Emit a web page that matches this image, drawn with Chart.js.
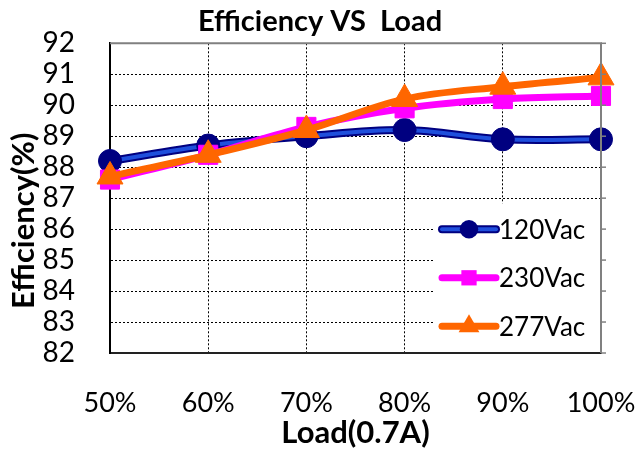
<!DOCTYPE html>
<html>
<head>
<meta charset="utf-8">
<script src="https://cdn.jsdelivr.net/npm/chart.js@4/dist/chart.umd.min.js"></script>
<style>
  html, body { margin: 0; padding: 0; background: #fff; }
  #wrap { width: 640px; height: 452px; }
</style>
</head>
<body>
<div id="wrap"><canvas id="effChart" width="640" height="452"></canvas></div>
<script>
// Efficiency vs load, three input voltages
const loads = ['50%', '60%', '70%', '80%', '90%', '100%'];
const eff120 = [88.2, 88.7, 89.0, 89.2, 88.9, 88.9];
const eff230 = [87.6, 88.4, 89.3, 89.9, 90.2, 90.3];
const eff277 = [87.7, 88.4, 89.2, 90.2, 90.6, 90.9];
const seriesNames = ['120Vac', '230Vac', '277Vac'];
const yMin = 82, yMax = 92, yStep = 1;

const FONT = "Lato, 'Open Sans', sans-serif";

// navy outline under the blue 120Vac line (Excel double-line look)
const doubleLine = {
    id: 'doubleLine',
    beforeDatasetDraw(chart, args) {
        if (args.index !== 0) return;
        const el = args.meta.dataset;
        const saved = el.options;
        el.options = Object.assign({}, saved, { borderColor: '#000080', borderWidth: 8 });
        el.draw(chart.ctx, chart.chartArea);
        el.options = saved;
    }
};

// grey top/right frame with outside ticks
const frame = {
    id: 'frame',
    afterDraw(chart) {
        const { ctx, chartArea: a, scales } = chart;
        ctx.save();
        ctx.strokeStyle = '#808080';
        ctx.lineWidth = 2;
        ctx.beginPath();
        ctx.moveTo(a.left, a.top);
        ctx.lineTo(a.right, a.top);
        ctx.lineTo(a.right, a.bottom);
        ctx.stroke();
        ctx.lineWidth = 1.5;
        scales.y.ticks.forEach(t => {
            const y = scales.y.getPixelForValue(t.value);
            ctx.beginPath();
            ctx.moveTo(a.right, y);
            ctx.lineTo(a.right + 5, y);
            ctx.stroke();
        });
        ctx.restore();
    }
};

function drawMarker(ctx, style, x, y, r) {
    if (style === 'circle') {
        ctx.arc(x, y, r, 0, Math.PI * 2);
    } else if (style === 'rect') {
        const s = Math.SQRT1_2 * r;
        ctx.rect(x - s, y - s, 2 * s, 2 * s);
    } else {
        for (let k = 0; k < 3; k++) {
            const ang = k * 2 * Math.PI / 3;
            const px = x + Math.sin(ang) * r, py = y - Math.cos(ang) * r;
            k ? ctx.lineTo(px, py) : ctx.moveTo(px, py);
        }
        ctx.closePath();
    }
}

// legend boxed inside the plot, lower right
const insideLegend = {
    id: 'insideLegend',
    afterDraw(chart) {
        const { ctx, chartArea: a } = chart;
        const boxL = a.right - 168, boxT = a.top + 160;
        ctx.save();
        ctx.fillStyle = '#fff';
        ctx.fillRect(boxL, boxT, a.right - 1 - boxL, a.bottom - 1 - boxT);
        chart.data.datasets.forEach((ds, i) => {
            const y = boxT + 26 + i * 48.5;
            const x0 = boxL + 9, x1 = boxL + 63, xm = (x0 + x1) / 2;
            ctx.lineCap = 'round';
            if (i === 0) {
                ctx.strokeStyle = '#000080'; ctx.lineWidth = 8;
                ctx.beginPath(); ctx.moveTo(x0, y); ctx.lineTo(x1, y); ctx.stroke();
            }
            ctx.strokeStyle = ds.borderColor; ctx.lineWidth = i === 0 ? 4 : 7;
            ctx.beginPath(); ctx.moveTo(x0, y); ctx.lineTo(x1, y); ctx.stroke();
            ctx.fillStyle = ds.pointBackgroundColor;
            ctx.beginPath();
            drawMarker(ctx, ds.pointStyle, xm, y, ds.pointRadius * 0.8);
            ctx.fill();
            ctx.fillStyle = '#000';
            ctx.font = '26px ' + FONT;
            ctx.textBaseline = 'middle';
            ctx.textAlign = 'left';
            ctx.fillText(seriesNames[i], x1 + 3, y + 1);
        });
        ctx.restore();
    }
};

new Chart(document.getElementById('effChart'), {
    type: 'line',
    data: {
        labels: loads,
        datasets: [
            {
                label: seriesNames[0], data: eff120, order: 3,
                borderColor: '#1f4fdc', borderWidth: 4,
                pointStyle: 'circle', pointRadius: 11.5,
                pointBackgroundColor: '#000080', pointBorderColor: '#000080', pointBorderWidth: 1
            },
            {
                label: seriesNames[1], data: eff230, order: 2,
                borderColor: '#ff00ff', borderWidth: 7,
                pointStyle: 'rect', pointRadius: 13.5,
                pointBackgroundColor: '#ff00ff', pointBorderColor: '#ff00ff', pointBorderWidth: 1
            },
            {
                label: seriesNames[2], data: eff277, order: 1,
                borderColor: '#ff6600', borderWidth: 7,
                pointStyle: 'triangle', pointRadius: 15,
                pointBackgroundColor: '#ff6600', pointBorderColor: '#ff6600', pointBorderWidth: 1
            }
        ]
    },
    options: {
        responsive: false,
        animation: false,
        layout: { padding: 0 },
        datasets: { line: { tension: 0.35, clip: false, borderCapStyle: 'round', borderJoinStyle: 'round' } },
        plugins: {
            legend: { display: false },
            tooltip: { enabled: false },
            title: {
                display: true, text: 'Efficiency VS  Load', color: '#000',
                font: { family: FONT, size: 29, weight: 'bold' },
                padding: { top: 4.6, bottom: 3.9 }
            }
        },
        scales: {
            x: {
                offset: false,
                grid: { color: '#000', lineWidth: 1, drawTicks: false },
                border: { display: true, color: '#222', width: 2, dash: [2, 2] },
                ticks: { color: '#000', padding: 34, maxRotation: 0, font: { family: FONT, size: 27 } },
                title: {
                    display: true, text: 'Load(0.7A)', color: '#000',
                    font: { family: FONT, size: 31, weight: 'bold' },
                    padding: { top: 0, bottom: 0 }
                },
                // keep right margin for the "100%" label without shifting the page title
                afterFit: s => { s.height = 99; s.paddingLeft = 0; s.paddingRight = 39; }
            },
            y: {
                min: yMin, max: yMax,
                grid: { color: '#000', lineWidth: 1, drawTicks: false },
                border: { display: true, color: '#000', width: 2, dash: [2, 2] },
                ticks: { stepSize: yStep, autoSkip: false, color: '#000', padding: 35, font: { family: FONT, size: 28 } },
                title: {
                    display: true, text: 'Efficiency(%)      ', color: '#000',
                    font: { family: FONT, size: 31, weight: 'bold' },
                    padding: { top: 5, bottom: 0 }
                },
                afterFit: s => { s.width = 110; s.paddingTop = 0; s.paddingBottom = 0; }
            }
        }
    },
    plugins: [doubleLine, frame, insideLegend]
});
</script>
</body>
</html>
